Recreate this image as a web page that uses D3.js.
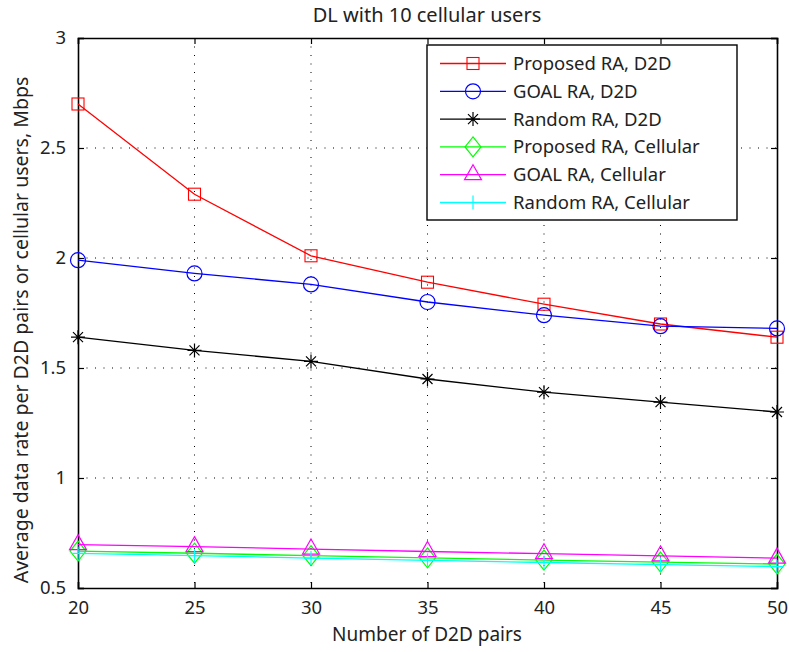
<!DOCTYPE html>
<html>
<head>
<meta charset="utf-8">
<script src="https://cdn.jsdelivr.net/npm/d3@7"></script>
<style>
  body { margin: 0; background: #fff; }
  text { font-family: "Noto Sans", sans-serif; fill: #222; }
</style>
</head>
<body>
<div class="chart"></div>
<script>
// Data
const pairs = [20, 25, 30, 35, 40, 45, 50];
const proposedD2D = [2.70, 2.29, 2.01, 1.89, 1.79, 1.70, 1.64];
const goalD2D = [1.99, 1.93, 1.88, 1.80, 1.74, 1.69, 1.68];
const randomD2D = [1.64, 1.58, 1.53, 1.45, 1.39, 1.345, 1.30];
const proposedCell = [0.668, 0.658, 0.647, 0.637, 0.627, 0.618, 0.609];
const goalCell = [0.697, 0.688, 0.677, 0.666, 0.656, 0.646, 0.636];
const randomCell = [0.657, 0.647, 0.636, 0.626, 0.616, 0.606, 0.597];
const xTicks = [20, 25, 30, 35, 40, 45, 50];
const yTicks = [0.5, 1, 1.5, 2, 2.5, 3];
const seriesNames = ["Proposed RA, D2D", "GOAL RA, D2D", "Random RA, D2D",
                     "Proposed RA, Cellular", "GOAL RA, Cellular", "Random RA, Cellular"];

const series = [
    { name: seriesNames[0], values: proposedD2D, color: "#ff0000", marker: "square" },
    { name: seriesNames[1], values: goalD2D, color: "#0000ff", marker: "circle" },
    { name: seriesNames[2], values: randomD2D, color: "#000000", marker: "star" },
    { name: seriesNames[3], values: proposedCell, color: "#00ff00", marker: "diamond" },
    { name: seriesNames[4], values: goalCell, color: "#ff00ff", marker: "triangle" },
    { name: seriesNames[5], values: randomCell, color: "#00ffff", marker: "plus" }
];

const fontSize = "18.5px";
const width = 789, height = 652;
const margin = { top: 38, right: 12, bottom: 64, left: 78 };
const chartWidth = width - margin.left - margin.right;
const chartHeight = height - margin.top - margin.bottom;

const svg = d3.select(".chart").append("svg")
    .attr("width", width)
    .attr("height", height);

const g = svg.append("g")
    .attr("transform", `translate(${margin.left}, ${margin.top})`);

const xScale = d3.scaleLinear().domain([20, 50]).range([0, chartWidth]);
const yScale = d3.scaleLinear().domain([0.5, 3]).range([chartHeight, 0]);

// grid (dotted)
g.append("g").selectAll("line")
    .data(xTicks.slice(1, -1))
    .enter().append("line")
    .attr("x1", d => xScale(d)).attr("x2", d => xScale(d))
    .attr("y1", 0).attr("y2", chartHeight)
    .attr("stroke", "#000").attr("stroke-width", 1)
    .attr("stroke-dasharray", "1,7.5");
g.append("g").selectAll("line")
    .data(yTicks.slice(1, -1))
    .enter().append("line")
    .attr("y1", d => yScale(d)).attr("y2", d => yScale(d))
    .attr("x1", 0).attr("x2", chartWidth)
    .attr("stroke", "#000").attr("stroke-width", 1)
    .attr("stroke-dasharray", "1,7.5");

// axes
const xAxis = d3.axisBottom(xScale).tickValues(xTicks).tickSize(-6).tickPadding(13).tickFormat(d3.format("d"));
const yAxis = d3.axisLeft(yScale).tickValues(yTicks).tickSize(-6).tickPadding(12).tickFormat(d => d);
const xAxisTop = d3.axisTop(xScale).tickValues(xTicks).tickSize(-6).tickFormat("");
const yAxisRight = d3.axisRight(yScale).tickValues(yTicks).tickSize(-6).tickFormat("");

function styleAxis(sel) {
    sel.select(".domain").attr("stroke", "#000").attr("stroke-width", 1.6);
    sel.selectAll(".tick line").attr("stroke", "#000").attr("stroke-width", 1.2);
    sel.selectAll(".tick text").style("font-family", "Noto Sans, sans-serif").style("font-size", fontSize).attr("fill", "#222");
}

g.append("g").attr("transform", `translate(0, ${chartHeight})`).call(xAxis).call(styleAxis);
g.append("g").call(yAxis).call(styleAxis);
g.append("g").call(xAxisTop).call(styleAxis);
g.append("g").attr("transform", `translate(${chartWidth}, 0)`).call(yAxisRight).call(styleAxis);

// markers
function drawMarker(sel, type, color) {
    const s = 7;
    if (type === "square") {
        sel.append("rect").attr("x", -6).attr("y", -6).attr("width", 12).attr("height", 12)
            .attr("fill", "none").attr("stroke", color).attr("stroke-width", 1.1);
    } else if (type === "circle") {
        sel.append("circle").attr("r", 7.5).attr("fill", "none").attr("stroke", color).attr("stroke-width", 1.2);
    } else if (type === "star") {
        sel.append("path").attr("d", `M${-s},0H${s}M0,${-s}V${s}M${-5},${-5}L5,5M${-5},5L5,${-5}`)
            .attr("stroke", color).attr("stroke-width", 1.2);
    } else if (type === "diamond") {
        sel.append("path").attr("d", "M0,-10L8,0L0,10L-8,0Z")
            .attr("fill", "none").attr("stroke", color).attr("stroke-width", 1.2);
    } else if (type === "triangle") {
        sel.append("path").attr("d", "M0,-10L8.5,5L-8.5,5Z")
            .attr("fill", "none").attr("stroke", color).attr("stroke-width", 1.2);
    } else if (type === "plus") {
        sel.append("path").attr("d", `M${-s},0H${s}M0,${-s}V${s}`)
            .attr("stroke", color).attr("stroke-width", 1.2);
    }
}

const line = d3.line()
    .x((d, i) => xScale(pairs[i]))
    .y(d => yScale(d));

series.forEach(s => {
    g.append("path")
        .datum(s.values)
        .attr("fill", "none")
        .attr("stroke", s.color)
        .attr("stroke-width", 1.3)
        .attr("d", line);
    s.values.forEach((v, i) => {
        const m = g.append("g").attr("transform", `translate(${xScale(pairs[i])}, ${yScale(v)})`);
        drawMarker(m, s.marker, s.color);
    });
});

// legend
const legend = svg.append("g").attr("transform", "translate(427, 45)");
legend.append("rect").attr("width", 310).attr("height", 175)
    .attr("fill", "#fff").attr("stroke", "#000").attr("stroke-width", 1.4);
series.forEach((s, i) => {
    const row = legend.append("g").attr("transform", `translate(0, ${18.5 + i * 27.8})`);
    row.append("line").attr("x1", 13).attr("x2", 79).attr("y1", 0).attr("y2", 0)
        .attr("stroke", s.color).attr("stroke-width", 1.3);
    drawMarker(row.append("g").attr("transform", "translate(46, 0)"), s.marker, s.color);
    row.append("text").attr("x", 86).attr("y", 6.5).style("font-size", fontSize).text(s.name);
});

// title and labels
svg.append("text").attr("x", 427).attr("y", 22).attr("text-anchor", "middle")
    .style("font-size", "20px").text("DL with 10 cellular users");
svg.append("text").attr("x", 427).attr("y", 641).attr("text-anchor", "middle")
    .style("font-size", "19px").text("Number of D2D pairs");
svg.append("text").attr("transform", "translate(28, 330) rotate(-90)").attr("text-anchor", "middle")
    .style("font-size", "19.5px").text("Average data rate per D2D pairs or cellular users, Mbps");
</script>
</body>
</html>
